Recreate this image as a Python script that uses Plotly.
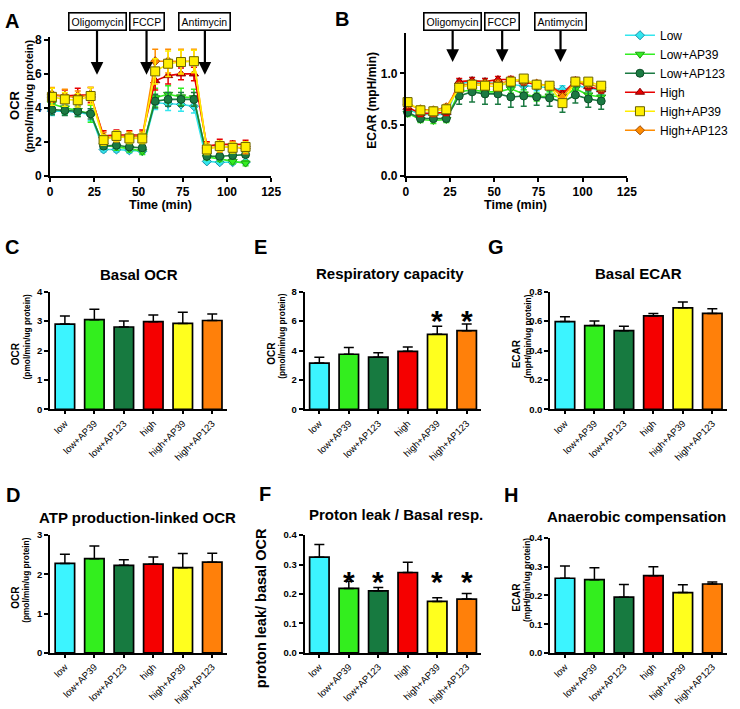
import plotly.graph_objects as go

# ---------------- data ----------------
time_min = [1.0, 8.3, 15.6, 22.9, 30.2, 37.5, 44.8, 52.1, 59.4, 66.7, 74.0, 81.3, 88.6, 95.9, 103.2, 110.5]
series_names = ["Low", "Low+AP39", "Low+AP123", "High", "High+AP39", "High+AP123"]

ocr_low = [3.8, 3.8, 3.75, 3.6, 1.55, 1.55, 1.5, 1.45, 4.3, 4.25, 4.2, 4.1, 0.85, 0.8, 0.8, 0.8]
ocr_low_ap39 = [4.25, 4.0, 3.85, 3.65, 1.8, 1.7, 1.6, 1.45, 4.6, 4.8, 4.65, 4.6, 1.1, 1.0, 0.85, 0.75]
ocr_low_ap123 = [3.9, 3.85, 3.8, 3.65, 1.75, 1.8, 1.7, 1.65, 4.4, 4.5, 4.5, 4.5, 1.15, 1.15, 1.2, 1.25]
ocr_high = [4.75, 4.7, 4.75, 4.75, 2.35, 2.4, 2.4, 2.4, 5.6, 5.9, 6.0, 6.0, 1.75, 1.85, 1.85, 1.85]
ocr_high_ap39 = [4.65, 4.5, 4.45, 4.7, 2.1, 2.35, 2.2, 2.2, 6.15, 6.6, 6.7, 6.75, 1.55, 1.75, 1.65, 1.7]
ocr_high_ap123 = [4.8, 4.7, 4.6, 4.8, 2.25, 2.3, 2.3, 2.3, 6.75, 6.75, 6.75, 6.75, 1.65, 1.7, 1.7, 1.6]

ocr_low_err = [0.25, 0.2, 0.2, 0.35, 0.15, 0.15, 0.15, 0.15, 0.4, 0.4, 0.4, 0.4, 0.1, 0.1, 0.1, 0.1]
ocr_low_ap39_err = [0.4, 0.35, 0.35, 0.5, 0.2, 0.2, 0.2, 0.2, 0.55, 0.5, 0.5, 0.5, 0.15, 0.15, 0.15, 0.15]
ocr_low_ap123_err = [0.3, 0.3, 0.3, 0.3, 0.15, 0.15, 0.15, 0.15, 0.4, 0.4, 0.4, 0.4, 0.15, 0.15, 0.15, 0.15]
ocr_high_err = [0.4, 0.35, 0.4, 0.45, 0.3, 0.3, 0.25, 0.3, 0.55, 0.5, 0.35, 0.4, 0.25, 0.3, 0.2, 0.25]
ocr_high_ap39_err = [0.5, 0.4, 0.4, 0.5, 0.3, 0.3, 0.3, 0.3, 0.75, 0.75, 0.7, 0.65, 0.3, 0.3, 0.3, 0.3]
ocr_high_ap123_err = [0.4, 0.4, 0.4, 0.4, 0.3, 0.3, 0.3, 0.3, 0.7, 0.7, 0.7, 0.7, 0.3, 0.3, 0.3, 0.3]

ecar_low = [0.65, 0.60, 0.60, 0.60, 0.90, 0.92, 0.91, 0.90, 0.89, 0.88, 0.87, 0.86, 0.84, 0.88, 0.86, 0.83]
ecar_low_ap39 = [0.61, 0.55, 0.54, 0.55, 0.82, 0.84, 0.82, 0.82, 0.85, 0.80, 0.77, 0.78, 0.77, 0.85, 0.79, 0.77]
ecar_low_ap123 = [0.62, 0.56, 0.56, 0.56, 0.78, 0.82, 0.80, 0.80, 0.77, 0.78, 0.77, 0.76, 0.72, 0.79, 0.75, 0.73]
ecar_high = [0.67, 0.61, 0.61, 0.62, 0.92, 0.93, 0.92, 0.94, 0.94, 0.92, 0.89, 0.88, 0.80, 0.93, 0.87, 0.84]
ecar_high_ap39 = [0.72, 0.64, 0.63, 0.65, 0.86, 0.89, 0.88, 0.87, 0.92, 0.95, 0.89, 0.88, 0.71, 0.92, 0.92, 0.88]
ecar_high_ap123 = [0.70, 0.65, 0.64, 0.67, 0.88, 0.90, 0.90, 0.90, 0.93, 0.93, 0.90, 0.88, 0.77, 0.92, 0.90, 0.86]

ecar_low_err = [0.03] * 4 + [0.04] * 12
ecar_low_ap39_err = [0.03] * 4 + [0.04] * 12
ecar_low_ap123_err = [0.03, 0.03, 0.03, 0.03, 0.08, 0.1, 0.1, 0.1, 0.1, 0.1, 0.08, 0.08, 0.1, 0.08, 0.08, 0.08]
ecar_high_err = [0.03] * 4 + [0.03] * 12
ecar_high_ap39_err = [0.04] * 4 + [0.03] * 12
ecar_high_ap123_err = [0.03] * 4 + [0.03] * 12

injections = ["Oligomycin", "FCCP", "Antimycin"]
injection_times = [26.5, 54.5, 87.5]

groups = ["low", "low+AP39", "low+AP123", "high", "high+AP39", "high+AP123"]
basal_ocr = [2.9, 3.05, 2.8, 2.98, 2.92, 3.02]
basal_ocr_err = [0.27, 0.35, 0.2, 0.23, 0.38, 0.22]
resp_capacity = [3.15, 3.75, 3.55, 3.95, 5.1, 5.35]
resp_capacity_err = [0.4, 0.45, 0.3, 0.3, 0.55, 0.45]
basal_ecar = [0.597, 0.57, 0.535, 0.635, 0.69, 0.652]
basal_ecar_err = [0.032, 0.03, 0.03, 0.017, 0.04, 0.032]
atp_linked = [2.28, 2.4, 2.23, 2.26, 2.17, 2.31]
atp_linked_err = [0.23, 0.32, 0.14, 0.18, 0.36, 0.23]
leak_ratio = [0.325, 0.219, 0.211, 0.273, 0.175, 0.183]
leak_ratio_err = [0.043, 0.024, 0.011, 0.035, 0.012, 0.019]
anaerobic = [0.26, 0.255, 0.194, 0.269, 0.21, 0.24]
anaerobic_err = [0.043, 0.042, 0.044, 0.031, 0.027, 0.007]

resp_sig = [False, False, False, False, True, True]
leak_sig = [False, True, True, False, True, True]
resp_sig_level = 6.6
leak_sig_level = 0.27

# ---------------- style ----------------
W, H = 740, 709
FONT = "Liberation Sans, Arial, sans-serif"
line_colors = ["#33E6EE", "#33EE22", "#1B7A42", "#E80000", "#FFEE00", "#FF8C00"]
edge_colors = ["#1C8FA8", "#1E9E10", "#0E4F28", "#8A0000", "#6A6200", "#A04A00"]
symbols = ["diamond", "triangle-down", "circle", "triangle-up", "square", "diamond"]
msizes = [7, 8, 8, 8, 9, 7]
bar_colors = ["#3CF4FF", "#33EE1E", "#177A40", "#F50000", "#FFFF1E", "#FF800A"]


def xd(a, b):
    return [a / W, b / W]


def yd(top, bottom):
    return [1 - bottom / H, 1 - top / H]


def px_x(p):
    return p / W


def px_y(p):
    return 1 - p / H


fig = go.Figure()

ocr_sets = [(ocr_low, ocr_low_err), (ocr_low_ap39, ocr_low_ap39_err), (ocr_low_ap123, ocr_low_ap123_err),
            (ocr_high, ocr_high_err), (ocr_high_ap39, ocr_high_ap39_err), (ocr_high_ap123, ocr_high_ap123_err)]
ecar_sets = [(ecar_low, ecar_low_err), (ecar_low_ap39, ecar_low_ap39_err), (ecar_low_ap123, ecar_low_ap123_err),
             (ecar_high, ecar_high_err), (ecar_high_ap39, ecar_high_ap39_err), (ecar_high_ap123, ecar_high_ap123_err)]

draw_order = [0, 1, 2, 3, 5, 4]
for panel, sets, xa, ya in [("A", ocr_sets, "x", "y"), ("B", ecar_sets, "x2", "y2")]:
    for i in draw_order:
        vals, errs = sets[i]
        fig.add_trace(go.Scatter(
            x=time_min, y=vals, mode="lines+markers", name=series_names[i],
            legendrank=i + 1, showlegend=(panel == "A"),
            line=dict(color=line_colors[i], width=1.6),
            marker=dict(symbol=symbols[i], size=msizes[i], color=line_colors[i],
                        line=dict(color=edge_colors[i], width=1)),
            error_y=dict(type="data", array=errs, color=line_colors[i], thickness=1.5, width=3),
            cliponaxis=False, xaxis=xa, yaxis=ya))

bar_panels = [
    ("x3", "y3", basal_ocr, basal_ocr_err),
    ("x4", "y4", resp_capacity, resp_capacity_err),
    ("x5", "y5", basal_ecar, basal_ecar_err),
    ("x6", "y6", atp_linked, atp_linked_err),
    ("x7", "y7", leak_ratio, leak_ratio_err),
    ("x8", "y8", anaerobic, anaerobic_err),
]
for xa, ya, vals, errs in bar_panels:
    fig.add_trace(go.Bar(
        x=groups, y=vals, width=0.66, showlegend=False,
        marker=dict(color=bar_colors, line=dict(color="black", width=1.7)),
        error_y=dict(type="data", array=errs, arrayminus=[0] * len(errs), symmetric=False,
                     color="black", thickness=1.5, width=5),
        xaxis=xa, yaxis=ya))

tick_bold = lambda s: dict(family=FONT, size=s, color="black", weight="bold")


def base_axis(**kw):
    d = dict(showline=True, linecolor="black", linewidth=2, ticks="outside", ticklen=5, tickwidth=2,
             tickcolor="black", showgrid=False, zeroline=False, fixedrange=True)
    d.update(kw)
    return d


layout_axes = {}
# A
layout_axes["xaxis"] = base_axis(domain=xd(48, 273), anchor="y", range=[0, 125], tickvals=[0, 25, 50, 75, 100, 125],
                                 tickfont=tick_bold(12), ticklen=4)
layout_axes["yaxis"] = base_axis(domain=yd(32, 173), anchor="x", range=[0, 8.15], tickvals=[0, 2, 4, 6, 8],
                                 tickfont=tick_bold(12), ticklen=4)
# B
layout_axes["xaxis2"] = base_axis(domain=xd(410, 635), anchor="y2", range=[0, 125], tickvals=[0, 25, 50, 75, 100, 125],
                                  tickfont=tick_bold(12), ticklen=4)
layout_axes["yaxis2"] = base_axis(domain=yd(28, 173), anchor="x2", range=[0, 1.39], tickvals=[0, 0.5, 1.0],
                                  tickformat=".1f", tickfont=tick_bold(12), ticklen=4)

bar_axes = [
    (3, (48, 228), (291, 411), [0, 4], [0, 1, 2, 3, 4], None),
    (4, (307, 487), (291, 411), [0, 8], [0, 2, 4, 6, 8], None),
    (5, (557, 737), (291, 411), [0, 0.8], [0, 0.2, 0.4, 0.6, 0.8], ".1f"),
    (6, (48, 228), (539, 659), [0, 3], [0, 1, 2, 3], None),
    (7, (307, 487), (539, 659), [0, 0.4], [0, 0.1, 0.2, 0.3, 0.4], ".1f"),
    (8, (557, 737), (542, 659), [0, 0.4], [0, 0.1, 0.2, 0.3, 0.4], ".1f"),
]
for n, (xa, xb), (yt, yb), yr, tv, tf in bar_axes:
    layout_axes[f"xaxis{n}"] = base_axis(domain=xd(xa, xb), anchor=f"y{n}", range=[-0.5, 5.5], linewidth=1.8,
                                         ticklen=3, tickwidth=1.5, tickangle=-45,
                                         tickfont=dict(family=FONT, size=9.5, color="black"))
    yax = base_axis(domain=yd(yt, yb), anchor=f"x{n}", range=yr, tickvals=tv, linewidth=1.8, ticklen=4,
                    tickwidth=1.5, tickfont=tick_bold(9.5))
    if tf:
        yax["tickformat"] = tf
    layout_axes[f"yaxis{n}"] = yax

ann = []


def text_ann(x, y, text, size, bold=True, angle=0, xanchor="center", yanchor="middle"):
    ann.append(dict(xref="paper", yref="paper", x=px_x(x), y=px_y(y), text=text, showarrow=False,
                    textangle=angle, xanchor=xanchor, yanchor=yanchor,
                    font=dict(family=FONT, size=size, color="black", weight="bold" if bold else "normal")))


# panel letters
for letter, x, y in [("A", 9, 15), ("B", 345, 13), ("C", 9, 245), ("E", 262, 245), ("G", 502, 245),
                     ("D", 10, 498), ("F", 267, 497), ("H", 517, 498)]:
    text_ann(x, y, letter, 20)

# panel titles
for t, x, y in [("Basal OCR", 138, 274), ("Respiratory capacity", 394, 272), ("Basal ECAR", 647, 273),
                ("ATP production-linked OCR", 137, 521), ("Proton leak / Basal resp.", 400, 518),
                ("Anaerobic compensation", 645, 520)]:
    text_ann(x, y, t, 15)

# axis titles
text_ann(160, 203, "Time (min)", 12.5)
text_ann(522, 203, "Time (min)", 12.5)
text_ann(11, 101, "OCR", 13, angle=-90)
text_ann(27, 92, "(pmol/min/ug protein)", 11, angle=-90)
text_ann(376, 96, "ECAR (mpH/min)", 12, angle=-90)
for x, yc, a, b in [(13, 351, "OCR", "(pmol/min/ug protein)"), (273, 351, "OCR", "(pmol/min/ug protein)"),
                    (523, 351, "ECAR", "(mpH/min/ug protein)"), (13, 599, "OCR", "(pmol/min/ug protein)"),
                    (523, 599, "ECAR", "(mpH/min/ug protein)")]:
    text_ann(x, yc + 3, a, 10, angle=-90)
    text_ann(x + 11, yc - 14, b, 8.3, angle=-90)
text_ann(262, 613, "proton leak/ basal OCR", 14.5, angle=-90)

# injection boxes and arrows
for xref, tip_px in [("x", 70), ("x2", 57)]:
    for name, t in zip(injections, injection_times):
        ann.append(dict(xref=xref, yref="paper", x=t, y=px_y(tip_px), text=name, showarrow=True,
                        ax=0, ay=-(tip_px - 17), arrowhead=2, arrowsize=1.15, arrowwidth=2.2, arrowcolor="black",
                        standoff=0, startstandoff=0,
                        bordercolor="black", borderwidth=1.6, borderpad=2, bgcolor="white",
                        font=dict(family=FONT, size=10.5, color="black")))

# significance asterisks
for xa, ya, sig, level in [("x4", "y4", resp_sig, resp_sig_level), ("x7", "y7", leak_sig, leak_sig_level)]:
    for g, s in zip(groups, sig):
        if s:
            ann.append(dict(xref=xa, yref=ya, x=g, y=level, text="*", showarrow=False, yanchor="middle",
                            yshift=-8, font=dict(family=FONT, size=30, color="black", weight="bold")))

fig.update_layout(
    width=W, height=H, margin=dict(l=0, r=0, t=0, b=0),
    paper_bgcolor="white", plot_bgcolor="white",
    font=dict(family=FONT, color="black"),
    showlegend=True,
    legend=dict(x=px_x(628), y=px_y(15), xanchor="left", yanchor="top", bgcolor="rgba(0,0,0,0)",
                font=dict(family=FONT, size=12, color="black"), itemwidth=30, tracegroupgap=0),
    annotations=ann,
    bargap=0.34,
)
fig.update_layout(**layout_axes)

fig.write_html("out.html", config={"displayModeBar": False},
               post_script="document.body.style.margin='0px';document.body.style.overflow='hidden';")
